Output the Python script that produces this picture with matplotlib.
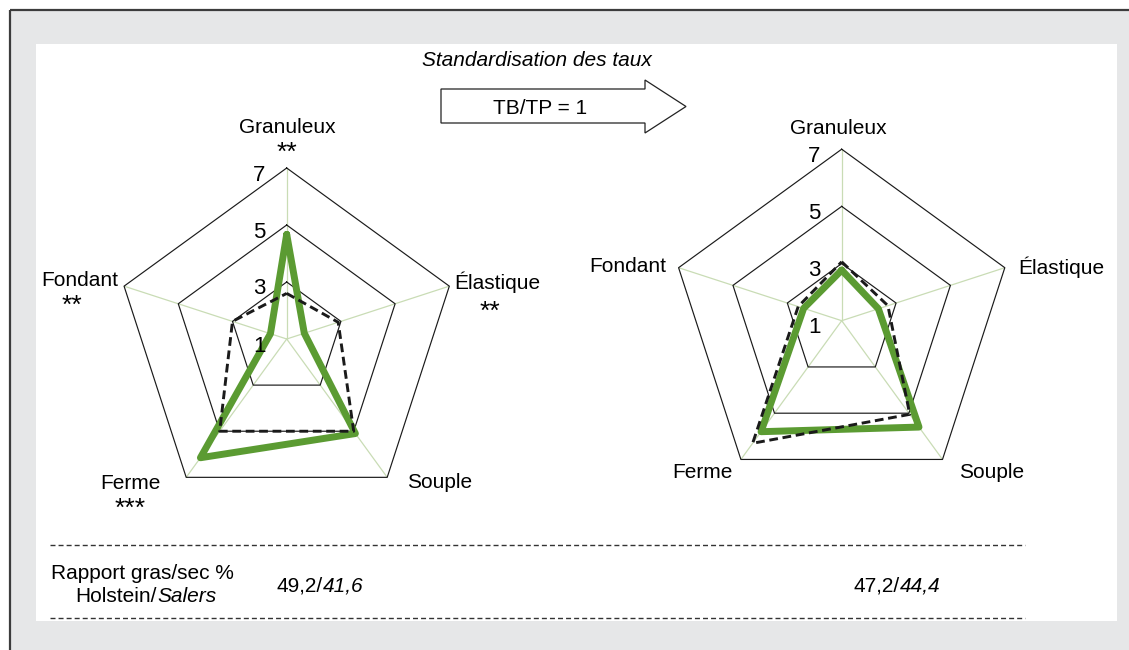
import matplotlib
matplotlib.use('Agg')
import matplotlib.pyplot as plt
import numpy as np
from matplotlib.patches import Rectangle, Polygon

plt.rcParams['font.family'] = ['Liberation Sans', 'DejaVu Sans']

# ---------------- data ----------------
attributes = ['Granuleux', 'Élastique', 'Souple', 'Ferme', 'Fondant']
signif_left = ['**', '**', '', '***', '**']
ticks = [1, 3, 5, 7]
rings = [3, 5, 7]
left_salers = [4.67, 1.65, 5.1, 6.15, 1.6]
left_holstein = [2.6, 2.9, 5.0, 5.0, 3.0]
right_salers = [2.77, 2.35, 5.6, 5.8, 2.4]
right_holstein = [3.06, 2.7, 5.05, 6.3, 2.6]
ratio_label = ['Rapport gras/sec %', 'Holstein/', 'Salers']
ratio_left = ['49,2/', '41,6']
ratio_right = ['47,2/', '44,4']
title_text = 'Standardisation des taux'
arrow_text = 'TB/TP = 1'

GREEN = '#5b9b32'
SPOKE = '#c9dcb5'
FS = 15

W, H = 1129, 650
fig = plt.figure(figsize=(W / 100, H / 100), dpi=100)
fig.patch.set_facecolor('white')

bg = fig.add_axes([0, 0, 1, 1], zorder=0)
bg.set_xlim(0, W)
bg.set_ylim(H, 0)
bg.axis('off')
bg.add_patch(Rectangle((10, 10), W - 10, H - 10, facecolor='#e6e7e8', edgecolor='none'))
bg.plot([10, 10], [H, 10], color='#3c3c3c', lw=1.6, solid_capstyle='butt')
bg.plot([10, W], [10, 10], color='#3c3c3c', lw=1.6, solid_capstyle='butt')
bg.add_patch(Rectangle((36, 44), 1117 - 36, 621 - 44, facecolor='white', edgecolor='none'))

# separators
for yy in (545, 618):
    bg.plot([50, 1025], [yy, yy], color='#333333', lw=1.0, ls=(0, (3.6, 2.2)))

# arrow
bg.add_patch(Polygon([(441, 89), (645, 89), (645, 80), (686, 106.5), (645, 133),
                      (645, 123), (441, 123)], closed=True, facecolor='white',
                     edgecolor='#222222', lw=0.9))
bg.text(540, 113.5, arrow_text, ha='center', va='baseline', fontsize=FS)
bg.text(537, 66, title_text, ha='center', va='baseline', fontsize=FS, style='italic')


def radar(cx, cy, R, salers, holstein):
    rect = [(cx - R) / W, (H - cy - R) / H, 2 * R / W, 2 * R / H]
    ax = fig.add_axes(rect, projection='polar', zorder=2)
    ax.set_theta_zero_location('N')
    ax.set_theta_direction(-1)
    ax.set_ylim(1, 7)
    ax.set_facecolor('none')
    ax.grid(False)
    ax.spines['polar'].set_visible(False)
    ax.set_xticks([])
    ax.set_yticks([])
    theta = np.deg2rad(np.arange(len(attributes)) * 360 / len(attributes))
    closed = np.append(theta, theta[0])
    for a in theta:
        ax.plot([a, a], [1, 7], color=SPOKE, lw=0.9, zorder=1)
    for v in rings:
        ax.plot(closed, [v] * len(closed), color='#1a1a1a', lw=0.85, zorder=2,
                clip_on=False)
    ax.plot(closed, np.append(salers, salers[0]), color=GREEN, lw=5.0,
            solid_joinstyle='round', solid_capstyle='round', zorder=3, clip_on=False)
    ax.plot(closed, np.append(holstein, holstein[0]), color='#1a1a1a', lw=2.1,
            ls=(0, (3.0, 1.6)), zorder=4, clip_on=False)
    for v in ticks:
        ax.annotate(str(v), xy=(0, v), xytext=(-27.5, -12.5), textcoords='offset pixels',
                    ha='center', va='baseline', fontsize=FS + 1, annotation_clip=False)
    return ax


radar(286.7, 339, 171, left_salers, left_holstein)
radar(841.7, 320.7, 171.5, right_salers, right_holstein)

# attribute labels
left_pos = [(287, 133), (497, 289), (440, 488), (130, 489), (80, 286)]
left_sig = [(287, 160), (490, 319), None, (130, 516), (72, 313)]
right_pos = [(838, 134), (1061, 274), (992, 478), (702, 478), (628, 272)]
for name, (x, y), sp, s in zip(attributes, left_pos, left_sig, signif_left):
    bg.text(x, y, name, ha='center', va='baseline', fontsize=FS)
    if s and sp:
        bg.text(sp[0], sp[1], s, ha='center', va='baseline', fontsize=19)
for name, (x, y) in zip(attributes, right_pos):
    bg.text(x, y, name, ha='center', va='baseline', fontsize=FS)

# bottom table
bg.text(142, 579, ratio_label[0], ha='center', va='baseline', fontsize=FS)

fig.canvas.draw()
r = fig.canvas.get_renderer()


def mixed(xc, y, a, b):
    t1 = bg.text(0, y, a, ha='left', va='baseline', fontsize=FS)
    t2 = bg.text(0, y, b, ha='left', va='baseline', fontsize=FS, style='italic')
    w1 = t1.get_window_extent(r).width
    w2 = t2.get_window_extent(r).width
    x0 = xc - (w1 + w2) / 2
    t1.set_x(x0)
    t2.set_x(x0 + w1)


mixed(146, 602, ratio_label[1], ratio_label[2])
mixed(320, 591, ratio_left[0], ratio_left[1])
mixed(897, 591, ratio_right[0], ratio_right[1])

fig.savefig('out.png', dpi=100, facecolor=fig.get_facecolor())
